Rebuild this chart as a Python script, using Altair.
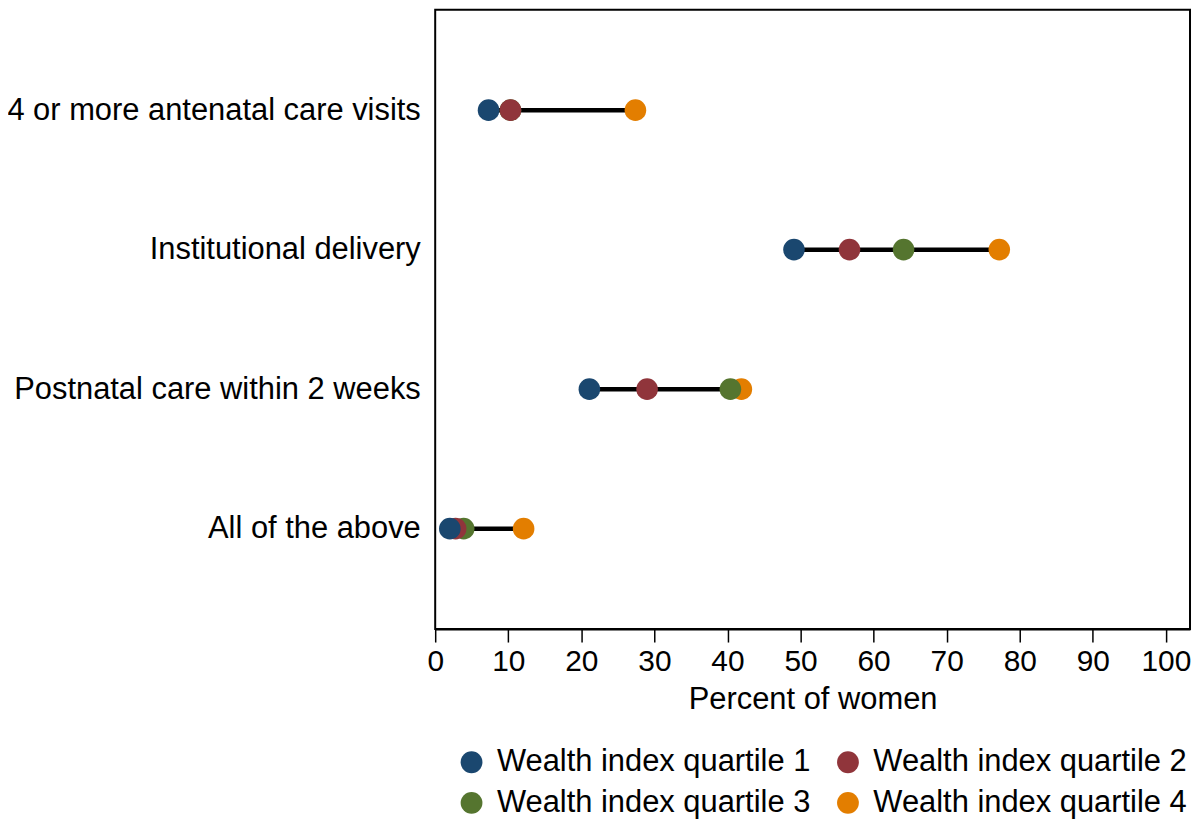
import altair as alt
import pandas as pd

categories = ["4 or more antenatal care visits", "Institutional delivery",
              "Postnatal care within 2 weeks", "All of the above"]
quartiles = ["Wealth index quartile 1", "Wealth index quartile 2",
             "Wealth index quartile 3", "Wealth index quartile 4"]
q1 = [7.3, 49.1, 21.1, 2.0]
q2 = [10.3, 56.7, 29.0, 2.8]
q3 = [10.3, 64.1, 40.4, 3.9]
q4 = [27.4, 77.2, 41.9, 12.1]
colors = ["#1a476f", "#90353b", "#55752f", "#e37e00"]

series = [q1, q2, q3, q4]
rows = []
for qi, (qname, vals) in enumerate(zip(quartiles, series)):
    for c, v in zip(categories, vals):
        rows.append({"category": c, "quartile": qname, "value": v, "ord": 4 - qi})
points = pd.DataFrame(rows).sort_values("ord", ascending=True)

ranges = pd.DataFrame({
    "category": categories,
    "lo": [min(s[i] for s in series) for i in range(4)],
    "hi": [max(s[i] for s in series) for i in range(4)],
})

yenc = alt.Y("category:N", sort=categories, title=None,
             scale=alt.Scale(type="point", padding=0.72),
             axis=alt.Axis(ticks=False, domain=False, labelFontSize=31,
                           labelPadding=15, labelLimit=0, labelColor="black",
                           grid=False))
xscale = alt.Scale(domain=[0, 103.3], nice=False, zero=False)

rule = alt.Chart(ranges).mark_rule(color="black", strokeWidth=4.5).encode(
    x=alt.X("lo:Q", scale=xscale,
            axis=alt.Axis(values=list(range(0, 101, 10)), title="Percent of women",
                          labelFontSize=30, titleFontSize=31, titleFontWeight="normal",
                          tickSize=13, tickColor="black", tickWidth=1.5,
                          domainColor="black", domainWidth=2, labelColor="black",
                          titleColor="black", labelPadding=5, titlePadding=8,
                          grid=False, labelFlush=False)),
    x2="hi:Q",
    y=yenc,
)

pts = alt.Chart(points).mark_point(filled=True, opacity=1, size=470, shape="circle").encode(
    x=alt.X("value:Q", scale=xscale),
    y=yenc,
    color=alt.Color("quartile:N", scale=alt.Scale(domain=quartiles, range=colors),
                    legend=alt.Legend(title=None, orient="none", legendX=21, legendY=740,
                                      direction="horizontal",
                                      columns=2, symbolSize=480, symbolType="circle",
                                      labelFontSize=31, symbolStrokeWidth=0,
                                      columnPadding=22, rowPadding=9, labelOffset=10,
                                      padding=0, labelColor="black", labelLimit=0)),
    order=alt.Order("ord:Q"),
)

chart = alt.layer(rule, pts).properties(
    width=758, height=622,
    autosize=alt.AutoSizeParams(type="none"),
    padding={"left": 429, "top": 0, "right": 2, "bottom": 190},
).configure(font="Liberation Sans").configure_view(
    stroke="black", strokeWidth=2
)

chart.save("out.html", embed_options={"renderer": "svg", "actions": False})
